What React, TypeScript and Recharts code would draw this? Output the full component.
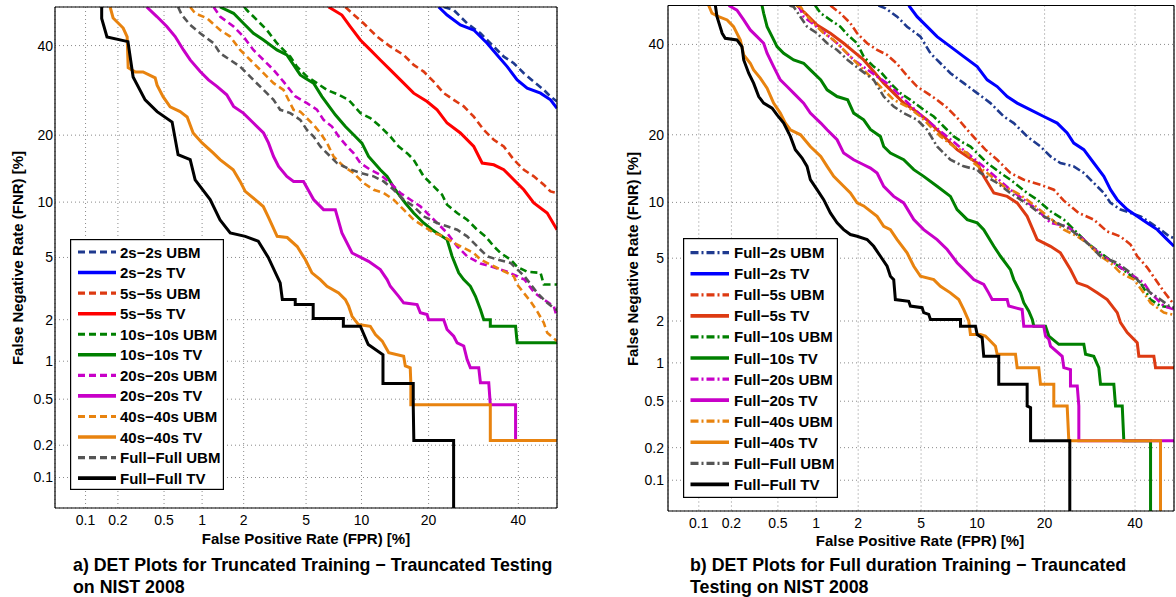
import React from "react";
import { LineChart, Line, XAxis, YAxis, CartesianGrid } from "recharts";

// every point is [false positive rate %, false negative rate %]
type Pt = [number, number];

const tickPercents = [0.1, 0.2, 0.5, 1, 2, 5, 10, 20, 40];
const tickLabels = ["0.1", "0.2", "0.5", "1", "2", "5", "10", "20", "40"];
const axisRange = [0.05, 50];

// ---- a) truncated training - truncated testing
const a2sUbm: Pt[] = [[22.9,50],[24.92,49.2],[27.79,45.74],[30.79,43.15],[33.93,39.73],[36.36,37.22],[38.85,35.6],[41.39,33.19],[43.96,31.2],[46.55,29.31],[48.3,27.82],[50,26.73]];
const a2sTv: Pt[] = [[21.9,50],[23.56,47.9],[26.33,45.3],[29.27,44.0],[32.35,40.6],[34.74,37.65],[37.2,34.77],[39.7,31.6],[42.25,29.7],[45.7,28.57],[48.3,27.1],[50,25.3]];
const a5sUbm: Pt[] = [[8.27,50],[8.96,48.35],[10.24,45.74],[11.91,42.3],[13.73,39.73],[15.74,37.65],[17.37,35.19],[19.11,33.57],[20.95,31.2],[22.9,28.57],[24.92,27.1],[27.05,25.7],[29.27,23.57],[31.56,20.98],[33.93,19.16],[36.36,17.98],[38.85,15.8],[41.39,14.26],[43.96,13.3],[46.55,12.16],[48.3,11.29],[50,11.09]];
const a5sTv: Pt[] = [[6.72,50],[7.93,47.9],[8.77,44.9],[9.87,41.43],[11.05,38.9],[12.34,36.4],[13.73,33.98],[15.23,31.6],[17.37,28.57],[19.72,26.73],[21.6,24.97],[23.56,22.3],[26.33,20.4],[29.27,17.98],[31.18,15.27],[33.93,15.0],[36.36,14.26],[38.85,12.83],[41.39,11.5],[43.96,9.9],[47.44,8.8],[50,7.18]];
const a10sUbm: Pt[] = [[2.02,50],[2.1,49.2],[2.33,47.5],[2.86,44.0],[3.32,40.6],[4.02,37.22],[4.41,34.77],[4.62,33.98],[5.06,32.38],[5.78,30.84],[6.58,29.31],[7.62,28.2],[8.6,27.1],[9.87,24.3],[11.05,23.28],[12.34,21.62],[13.73,19.75],[14.97,17.98],[16.29,16.86],[17.37,15.8],[19.11,13.3],[20.95,11.94],[22.57,10.88],[23.56,9.71],[25.64,8.8],[27.79,8.12],[30.03,7.18],[31.95,6.6],[33.93,5.8],[35.55,5.31],[38.02,4.86],[39.7,4.4],[42.25,4.1],[45.7,4.04],[46.55,3.42],[50,3.42]];
const a10sTv: Pt[] = [[1.36,50],[1.7,48.35],[1.99,45.74],[2.33,43.15],[2.72,41.43],[3.32,38.9],[3.83,37.65],[4.21,35.19],[4.62,32.78],[4.95,32.0],[5.53,30.84],[6.17,27.82],[7.31,23.94],[8.27,21.62],[9.31,19.75],[10.05,18.56],[10.84,16.32],[12.34,14.26],[13.27,13.3],[14.46,11.5],[16.0,9.9],[17.37,8.8],[19.11,7.8],[20.64,7.18],[23.56,6.33],[24.58,5.08],[25.97,4.04],[27.05,3.67],[28.52,3.33],[29.65,2.87],[30.79,2.35],[31.56,2.0],[33.1,2.0],[33.1,1.8],[39.3,1.8],[39.7,1.37],[50,1.37]];
const a20sUbm: Pt[] = [[1.22,50],[1.36,47.5],[1.7,44.9],[1.99,42.3],[2.33,38.9],[2.72,36.4],[3.16,33.98],[3.65,31.2],[4.3,27.9],[5.06,26.39],[5.78,25.0],[6.3,22.93],[7.01,21.62],[7.62,19.75],[8.44,17.98],[9.12,16.86],[9.87,15.27],[11.05,14.26],[12.34,13.53],[13.73,12.39],[15.23,11.09],[16.85,10.28],[18.52,9.52],[20.33,8.46],[21.6,7.8],[23.56,6.89],[25.64,5.8],[27.79,5.08],[30.79,4.6],[33.1,4.43],[37.2,4.1],[41.56,3.67],[44.14,3.02],[46.55,2.73],[49.17,2.47],[50,2.06]];
const a20sTv: Pt[] = [[0.358,50],[0.436,47.5],[0.527,44.9],[0.616,42.3],[0.717,38.9],[0.81,36.4],[0.967,33.6],[1.117,31.6],[1.29,30.1],[1.52,28.2],[1.7,25.7],[1.99,24.3],[2.33,22.3],[2.72,20.4],[2.93,18.6],[3.16,16.3],[3.4,14.75],[3.83,13.3],[4.21,12.6],[4.83,12.6],[5.53,10.3],[6.3,9.16],[7.31,9.16],[7.93,6.89],[8.96,5.31],[10.84,4.74],[12.34,4.23],[13.27,3.67],[13.73,3.33],[14.97,2.87],[15.74,2.6],[17.96,2.53],[18.52,2.23],[19.72,2.17],[20.0,2.0],[22.88,2.0],[23.56,1.71],[24.92,1.53],[25.64,1.37],[27.05,1.3],[27.79,1.03],[28.52,0.89],[30.4,0.89],[30.79,0.68],[32.73,0.68],[33.1,0.45],[39.3,0.45],[39.3,0.22],[50,0.22]];
const a40sUbm: Pt[] = [[0.81,50],[0.885,48.35],[1.09,47.05],[1.36,44.0],[1.61,42.3],[1.89,38.9],[2.22,36.4],[2.72,33.19],[3.16,30.84],[3.65,29.31],[4.21,24.97],[4.62,24.6],[4.95,23.57],[5.53,21.95],[6.04,20.4],[6.58,18.6],[7.15,16.32],[8.1,14.75],[9.12,13.77],[10.24,12.39],[11.47,11.5],[12.79,11.09],[14.22,10.28],[15.74,9.16],[17.37,8.12],[19.11,7.49],[20.95,6.89],[22.9,6.6],[24.92,6.07],[27.05,5.68],[29.27,5.31],[30.79,4.86],[33.93,4.43],[37.2,4.04],[38.85,3.85],[39.7,3.42],[41.39,3.02],[43.1,2.66],[44.84,2.28],[46.55,1.9],[47.44,1.62],[50,1.41]];
const a40sTv: Pt[] = [[0.17,50],[0.181,47.1],[0.223,44.5],[0.242,42.2],[0.247,34.5],[0.284,33.5],[0.333,33.5],[0.422,32.1],[0.438,30.4],[0.491,27.8],[0.561,25.6],[0.675,24.6],[0.767,23.5],[0.854,20.4],[1.0,18.6],[1.21,16.9],[1.36,15.8],[1.69,14.25],[1.89,12.6],[2.05,11.3],[2.32,10.5],[2.71,9.5],[2.92,8.4],[3.33,6.6],[3.85,6.5],[4.43,5.78],[4.62,5.41],[4.95,4.86],[5.41,4.04],[6.04,3.67],[6.58,3.33],[7.62,3.02],[8.27,2.73],[8.6,2.47],[8.96,2.11],[9.66,1.85],[11.05,1.8],[11.7,1.57],[12.6,1.41],[13.27,1.22],[13.5,1.16],[15.74,1.09],[16.0,0.92],[16.8,0.89],[16.9,0.68],[16.9,0.45],[33.1,0.45],[33.1,0.22],[50,0.22]];
const aFullUbm: Pt[] = [[0.65,50],[0.697,47.9],[0.81,45.3],[0.967,43.15],[1.22,40.6],[1.36,38.07],[1.61,36.4],[1.89,34.77],[2.33,31.6],[2.72,29.31],[3.16,27.1],[3.48,24.97],[4.02,24.3],[4.62,22.93],[5.06,20.98],[5.53,19.75],[6.04,17.98],[6.86,16.32],[7.46,15.27],[8.44,14.51],[9.87,13.77],[11.47,13.3],[12.79,12.6],[14.22,11.5],[15.74,10.28],[17.37,9.52],[19.11,8.46],[21.6,7.8],[23.56,7.49],[25.64,7.18],[27.79,6.6],[30.03,5.8],[32.35,5.08],[34.74,4.86],[38.02,4.64],[41.56,3.85],[44.84,3.02],[47.44,2.6],[49.6,2.35],[50,2.35]];
const aFullTv: Pt[] = [[0.142,50],[0.142,47],[0.159,42.2],[0.246,41],[0.273,32.3],[0.347,27.1],[0.438,24.6],[0.582,22.5],[0.65,16.6],[0.81,15.8],[0.885,12.8],[1.15,10.3],[1.36,8.1],[1.61,6.9],[2.05,6.6],[2.51,6.2],[2.92,5.0],[3.48,3.5],[3.59,2.74],[4.31,2.74],[4.31,2.54],[5.5,2.54],[5.5,2.04],[8.07,2.04],[8.07,1.8],[9.87,1.8],[10.8,1.33],[12.7,1.12],[12.7,0.67],[17.3,0.67],[17.3,0.45],[17.4,0.22],[24.9,0.22],[24.9,0.05]];

// ---- b) full duration training - truncated testing
const b2sUbm: Pt[] = [[2.73,50],[3.03,49.27],[3.589,47.1],[4.13,44.52],[4.96,41.97],[5.66,37.8],[6.44,35.36],[7.3,32.98],[8.58,30.66],[10.03,28.42],[11.63,26.26],[13.42,23.5],[14.87,22.2],[16.98,19.7],[19.26,17.94],[21.1,16.29],[23.0,15.26],[25.73,14.75],[27.88,13.78],[30.1,12.4],[32.41,11.11],[33.99,9.94],[36.4,9.2],[38.87,8.85],[41.39,8.5],[43.94,7.85],[46.5,7.23],[48.77,6.65],[50,6.5]];
const b2sTv: Pt[] = [[4.23,50],[4.74,47.1],[5.42,44.52],[6.17,41.97],[7.3,39.45],[8.58,36.97],[10.03,34.54],[11.22,31.42],[12.51,29.89],[13.9,27.67],[15.39,26.26],[17.55,24.86],[19.85,23.5],[22.37,22.2],[24.36,20.32],[25.73,18.53],[27.88,17.4],[30.1,15.26],[32.41,13.3],[33.99,11.53],[35.6,10.31],[38.05,9.2],[40.55,8.5],[43.09,7.85],[45.66,7.23],[48.25,6.38],[50,5.85]];
const b5sUbm: Pt[] = [[1.272,50],[1.502,47.98],[1.767,45.39],[1.966,42.83],[2.298,40.3],[2.676,38.62],[3.105,37.39],[3.589,35.19],[4.13,32.34],[4.74,29.89],[5.42,28.42],[6.17,26.96],[7.01,25.27],[7.92,23.24],[8.94,20.93],[10.03,18.93],[11.0,17.4],[12.51,15.77],[14.37,13.78],[16.43,12.84],[19.26,12.17],[21.72,11.53],[23.68,10.2],[26.74,8.85],[30.1,8.17],[33.2,7.06],[36.4,6.63],[38.87,5.98],[40.55,5.13],[43.09,4.4],[45.22,3.72],[47.37,3.13],[50,2.58]];
const b5sTv: Pt[] = [[0.712,50],[0.851,47.54],[1.014,44.96],[1.272,42.83],[1.585,40.3],[1.863,38.2],[2.18,36.16],[2.542,33.36],[2.953,30.66],[3.417,28.42],[3.94,26.26],[4.53,24.86],[5.42,22.84],[6.17,20.93],[7.01,19.11],[7.92,17.4],[8.94,16.29],[10.03,15.26],[10.8,13.3],[12.07,11.11],[13.9,10.7],[15.39,9.94],[16.98,8.5],[18.68,6.38],[21.1,5.85],[23.0,5.37],[25.04,4.28],[26.46,3.55],[28.62,3.38],[30.88,3.07],[33.2,2.78],[35.6,2.28],[36.4,1.95],[38.05,1.66],[40.55,1.41],[40.96,1.12],[44.79,1.12],[45.22,0.92],[50,0.92]];
const b10sUbm: Pt[] = [[0.98,50],[1.081,47.98],[1.272,46.25],[1.502,44.52],[1.691,42.4],[1.966,40.3],[2.18,36.97],[2.542,34.54],[2.812,33.36],[3.257,30.66],[3.76,28.42],[4.325,26.96],[5.18,24.86],[5.91,23.5],[6.71,21.55],[7.6,19.7],[8.58,18.53],[9.28,17.94],[11.22,15.26],[12.96,13.78],[14.37,12.84],[16.98,11.11],[18.68,10.31],[21.1,9.02],[23.68,8.17],[26.46,6.94],[28.62,6.11],[31.64,5.37],[34.78,4.7],[38.05,4.09],[41.39,3.55],[43.94,2.78],[46.5,2.52],[50,2.45]];
const b10sTv: Pt[] = [[0.369,50],[0.381,47.98],[0.407,44.52],[0.448,41.97],[0.492,39.45],[0.557,37.8],[0.669,36.16],[0.801,35.36],[0.902,33.76],[1.081,31.42],[1.204,29.15],[1.423,27.67],[1.691,26.96],[1.863,24.18],[2.18,22.84],[2.418,21.0],[2.812,19.7],[2.953,17.94],[3.257,16.84],[3.94,15.77],[4.53,14.26],[5.18,13.3],[6.17,11.96],[7.3,10.7],[7.92,9.2],[8.94,8.17],[10.03,7.85],[10.8,7.23],[12.07,5.85],[12.96,5.13],[14.37,4.28],[14.87,3.72],[15.91,3.07],[16.43,2.65],[17.25,2.33],[17.84,2.05],[18.1,1.84],[20.17,1.84],[20.78,1.57],[22.69,1.37],[27.88,1.37],[28.26,1.16],[30.1,1.12],[31.24,0.92],[31.64,0.683],[34.78,0.683],[35.19,0.457],[36.82,0.457],[37.21,0.23],[43.94,0.23],[43.94,0.05]];
const b20sUbm: Pt[] = [[0.729,50],[0.801,47.1],[1.081,43.68],[1.423,40.3],[1.863,36.16],[2.676,32.18],[3.105,30.66],[4.96,23.83],[8.94,16.84],[11.22,14.26],[14.37,11.53],[18.68,9.2],[21.1,7.85],[24.36,7.53],[27.88,6.38],[31.64,5.26],[34.78,4.7],[42.22,3.55],[43.94,3.07],[47.37,2.52],[50,2.39]];
const b20sTv: Pt[] = [[0.189,50],[0.224,48.8],[0.257,46.25],[0.293,43.68],[0.335,41.97],[0.381,40.3],[0.407,37.8],[0.461,34.54],[0.523,31.42],[0.593,29.89],[0.669,28.42],[0.801,26.26],[0.902,24.18],[1.081,22.2],[1.204,20.93],[1.423,19.11],[1.585,16.84],[1.863,15.77],[2.18,15.0],[2.418,14.5],[2.676,13.78],[2.953,11.96],[3.417,10.7],[3.94,9.94],[4.53,8.17],[5.18,7.23],[6.17,6.38],[7.01,5.61],[7.92,4.7],[8.94,4.09],[9.64,3.72],[10.8,3.47],[11.4,3.07],[11.85,2.78],[13.9,2.78],[14.13,2.52],[16.17,2.39],[16.43,1.84],[19.85,1.84],[20.17,1.57],[20.78,1.49],[21.1,1.33],[23.36,1.12],[23.68,0.92],[25.04,0.89],[25.04,0.663],[26.46,0.663],[26.8,0.457],[26.8,0.23],[50,0.23]];
const b40sUbm: Pt[] = [[0.7,50],[0.755,49.7],[0.902,46.25],[1.014,44.52],[1.136,42.83],[1.345,41.13],[1.502,39.45],[1.767,36.97],[2.07,34.54],[2.418,32.18],[2.812,29.89],[3.417,26.96],[4.13,25.54],[4.96,23.5],[5.66,21.55],[6.44,19.7],[7.6,17.94],[8.94,16.84],[9.64,15.26],[11.22,13.78],[13.42,11.96],[15.39,11.11],[16.98,10.31],[19.85,8.85],[23.68,7.23],[26.46,6.65],[28.62,6.11],[31.64,5.13],[33.99,4.7],[36.4,4.09],[39.7,3.72],[42.22,3.07],[43.94,2.65],[47.37,2.28],[50,2.2]];
const b40sTv: Pt[] = [[0.124,50],[0.133,47.98],[0.153,47.1],[0.183,46.25],[0.209,44.52],[0.24,41.13],[0.257,37.39],[0.293,35.36],[0.313,33.76],[0.357,31.81],[0.407,29.53],[0.461,26.26],[0.523,24.18],[0.575,22.2],[0.63,20.93],[0.758,20.0],[0.902,17.94],[1.081,16.29],[1.204,14.75],[1.345,13.3],[1.585,11.96],[1.767,11.11],[1.966,9.94],[2.18,9.6],[2.676,8.5],[2.953,7.53],[3.257,7.23],[3.589,6.38],[4.13,5.37],[4.53,4.48],[4.96,3.9],[5.91,3.72],[6.44,3.38],[7.3,3.07],[8.08,2.78],[8.58,2.39],[9.1,2.0],[9.28,1.61],[10.41,1.61],[11.0,1.57],[11.4,1.49],[12.28,1.33],[12.51,1.16],[15.13,1.16],[15.39,0.92],[18.96,0.92],[19.26,0.683],[21.72,0.683],[21.72,0.457],[24.36,0.457],[24.7,0.23],[46.5,0.23],[46.5,0.05]];
const bFullUbm: Pt[] = [[0.62,50],[0.669,49.7],[0.755,47.1],[0.851,44.52],[1.014,42.83],[1.204,40.3],[1.423,38.62],[1.691,36.16],[2.07,33.76],[2.542,31.42],[2.953,27.67],[3.417,25.54],[3.94,24.18],[4.74,22.84],[5.42,20.93],[6.17,17.94],[7.3,15.77],[8.58,14.75],[10.03,14.26],[10.41,13.78],[12.51,12.4],[14.37,11.11],[15.91,10.31],[17.55,9.56],[19.85,8.5],[22.37,7.85],[25.04,7.23],[28.62,6.11],[31.64,5.13],[35.6,4.7],[38.87,4.09],[41.39,3.55],[43.94,3.07],[46.5,2.78],[48.77,2.52],[50,2.45]];
const bFullTv: Pt[] = [[0.143,50],[0.148,47.1],[0.165,42.83],[0.176,41.56],[0.224,41.13],[0.248,39.45],[0.257,36.16],[0.284,32.98],[0.313,30.66],[0.346,27.67],[0.381,26.26],[0.448,25.2],[0.492,23.83],[0.557,22.2],[0.63,19.7],[0.69,17.4],[0.779,16.04],[0.851,14.75],[0.902,12.84],[1.014,11.53],[1.136,10.31],[1.272,8.85],[1.423,7.85],[1.585,7.23],[1.767,6.8],[1.966,6.65],[2.298,6.38],[2.542,5.85],[2.812,5.13],[3.105,4.48],[3.257,3.9],[3.417,3.72],[3.5,2.78],[4.225,2.71],[4.325,2.52],[5.07,2.46],[5.18,2.28],[5.535,2.22],[5.66,2.05],[8.25,2.05],[8.25,1.84],[9.84,1.84],[10.03,1.61],[10.61,1.53],[10.8,1.12],[12.72,1.12],[12.72,0.683],[16.98,0.683],[16.98,0.457],[17.55,0.443],[17.55,0.23],[24.9,0.23],[24.9,0.05]];

const leftNames = ["2s−2s UBM", "2s−2s TV", "5s−5s UBM", "5s−5s TV", "10s−10s UBM", "10s−10s TV", "20s−20s UBM", "20s−20s TV", "40s−40s UBM", "40s−40s TV", "Full−Full UBM", "Full−Full TV"];
const rightNames = ["Full−2s UBM", "Full−2s TV", "Full−5s UBM", "Full−5s TV", "Full−10s UBM", "Full−10s TV", "Full−20s UBM", "Full−20s TV", "Full−40s UBM", "Full−40s TV", "Full−Full UBM", "Full−Full TV"];

const FONT = '"Liberation Sans", Arial, Helvetica, sans-serif';
const NAVY = "#1f3a8f";
const BLUE = "#0000ff";
const RED = "#ff0000";
const RED_ORANGE = "#dd3a12";
const GREEN = "#008000";
const MAGENTA = "#c800c8";
const ORANGE = "#e8830f";
const GRAY = "#555555";
const BLACK = "#000000";
const DASH = "7 4";
const DASH_DOT = "8 3 2 3";

type Series = { name: string; data: Pt[]; color: string; dash?: string };

const leftSeries: Series[] = [
  { name: leftNames[0], data: a2sUbm, color: NAVY, dash: DASH },
  { name: leftNames[1], data: a2sTv, color: BLUE },
  { name: leftNames[2], data: a5sUbm, color: RED_ORANGE, dash: DASH },
  { name: leftNames[3], data: a5sTv, color: RED },
  { name: leftNames[4], data: a10sUbm, color: GREEN, dash: DASH },
  { name: leftNames[5], data: a10sTv, color: GREEN },
  { name: leftNames[6], data: a20sUbm, color: MAGENTA, dash: DASH },
  { name: leftNames[7], data: a20sTv, color: MAGENTA },
  { name: leftNames[8], data: a40sUbm, color: ORANGE, dash: DASH },
  { name: leftNames[9], data: a40sTv, color: ORANGE },
  { name: leftNames[10], data: aFullUbm, color: GRAY, dash: DASH },
  { name: leftNames[11], data: aFullTv, color: BLACK },
];

const rightSeries: Series[] = [
  { name: rightNames[0], data: b2sUbm, color: NAVY, dash: DASH_DOT },
  { name: rightNames[1], data: b2sTv, color: BLUE },
  { name: rightNames[2], data: b5sUbm, color: RED_ORANGE, dash: DASH_DOT },
  { name: rightNames[3], data: b5sTv, color: RED_ORANGE },
  { name: rightNames[4], data: b10sUbm, color: GREEN, dash: DASH_DOT },
  { name: rightNames[5], data: b10sTv, color: GREEN },
  { name: rightNames[6], data: b20sUbm, color: MAGENTA, dash: DASH_DOT },
  { name: rightNames[7], data: b20sTv, color: MAGENTA },
  { name: rightNames[8], data: b40sUbm, color: ORANGE, dash: DASH_DOT },
  { name: rightNames[9], data: b40sTv, color: ORANGE },
  { name: rightNames[10], data: bFullUbm, color: GRAY, dash: DASH_DOT },
  { name: rightNames[11], data: bFullTv, color: BLACK },
];

// inverse of the standard normal cdf (Acklam), DET plots use this warping
function probit(p: number) {
  const a = [-39.69683028665376, 220.9460984245205, -275.9285104469687, 138.357751867269, -30.66479806614716, 2.506628277459239];
  const b = [-54.47609879822406, 161.5858368580409, -155.6989798598866, 66.80131188771972, -13.28068155288572];
  const c = [-0.007784894002430293, -0.3223964580411365, -2.400758277161838, -2.549732539343734, 4.374664141464968, 2.938163982698783];
  const d = [0.007784695709041462, 0.3224671290700398, 2.445134137142996, 3.754408661907416];
  const lo = 0.02425;
  if (p < lo) {
    const q = Math.sqrt(-2 * Math.log(p));
    return (((((c[0] * q + c[1]) * q + c[2]) * q + c[3]) * q + c[4]) * q + c[5]) / ((((d[0] * q + d[1]) * q + d[2]) * q + d[3]) * q + 1);
  }
  if (p <= 1 - lo) {
    const q = p - 0.5;
    const r = q * q;
    return ((((((a[0] * r + a[1]) * r + a[2]) * r + a[3]) * r + a[4]) * r + a[5]) * q) / (((((b[0] * r + b[1]) * r + b[2]) * r + b[3]) * r + b[4]) * r + 1);
  }
  const q = Math.sqrt(-2 * Math.log(1 - p));
  return -(((((c[0] * q + c[1]) * q + c[2]) * q + c[3]) * q + c[4]) * q + c[5]) / ((((d[0] * q + d[1]) * q + d[2]) * q + d[3]) * q + 1);
}

const toRows = (pts: Pt[]) => pts.map(([fpr, fnr]) => ({ x: probit(fpr / 100), y: probit(fnr / 100) }));

const domain = [probit(axisRange[0] / 100), probit(axisRange[1] / 100)];
const ticks = tickPercents.map((p) => probit(p / 100));
const tickText = (v: number) => {
  const i = ticks.findIndex((t) => Math.abs(t - v) < 1e-9);
  return i < 0 ? "" : tickLabels[i];
};

const frame = { stroke: "#000", strokeWidth: 1.2 };

function DetPanel(props: { series: Series[]; left: number; width: number; height: number; axisWidth: number; top: number; right: number; yGap: number }) {
  const { series, left, width, height, axisWidth, top, right, yGap } = props;
  const common = { type: "number" as const, domain, ticks, allowDataOverflow: true, interval: 0 as const };
  return (
    <div style={{ position: "absolute", left, top: 0 }}>
      <LineChart width={width} height={height} margin={{ top, right, bottom: 0, left: 0 }}>
        <CartesianGrid stroke="#8a8a8a" strokeDasharray="1 3" />
        <XAxis {...common} dataKey="x" height={22} tickLine={false} tickSize={6} tickMargin={1} axisLine={frame} tick={{ fill: "#000", fontSize: 14 }} tickFormatter={tickText} />
        <YAxis {...common} width={axisWidth} tickLine={false} tickSize={yGap} tickMargin={0} axisLine={frame} tick={{ fill: "#000", fontSize: 14 }} tickFormatter={tickText} />
        <XAxis {...common} xAxisId="top" orientation="top" mirror tick={false} tickSize={5} tickLine={frame} axisLine={frame} />
        <XAxis {...common} xAxisId="inner" orientation="bottom" mirror tick={false} tickSize={5} tickLine={frame} axisLine={false} />
        <YAxis {...common} yAxisId="right" orientation="right" mirror tick={false} tickSize={5} tickLine={frame} axisLine={frame} />
        <YAxis {...common} yAxisId="inner" orientation="left" mirror tick={false} tickSize={5} tickLine={frame} axisLine={false} />
        {series.map((s) => (
          <Line
            key={s.name}
            data={toRows(s.data)}
            dataKey="y"
            type="linear"
            stroke={s.color}
            strokeWidth={s.dash ? 2.6 : 3}
            strokeDasharray={s.dash}
            dot={false}
            activeDot={false}
            isAnimationActive={false}
          />
        ))}
      </LineChart>
    </div>
  );
}

function LegendBox(props: { series: Series[]; left: number; top: number; width: number; height: number; rowTop: number; rowGap: number; x0: number; x1: number; textX: number }) {
  const { series, left, top, width, height, rowTop, rowGap, x0, x1, textX } = props;
  return (
    <svg style={{ position: "absolute", left, top }} width={width} height={height}>
      <rect x={0.6} y={0.6} width={width - 1.2} height={height - 1.2} fill="#fff" stroke="#000" strokeWidth={1.2} />
      {series.map((s, i) => {
        const y = rowTop + i * rowGap;
        return (
          <g key={s.name}>
            <line x1={x0} x2={x1} y1={y} y2={y} stroke={s.color} strokeWidth={s.dash ? 3.2 : 3.6} strokeDasharray={s.dash} />
            <text x={textX} y={y} dominantBaseline="central" fontSize={15} fontWeight="bold" fill="#000" fontFamily={FONT}>
              {s.name}
            </text>
          </g>
        );
      })}
    </svg>
  );
}

const titleStyle: React.CSSProperties = { position: "absolute", fontSize: 15, fontWeight: "bold", lineHeight: "16px", whiteSpace: "nowrap", transform: "translate(-50%, -50%)" };
const captionStyle: React.CSSProperties = { position: "absolute", fontSize: 17.8, fontWeight: "bold", lineHeight: "22px", whiteSpace: "nowrap" };

export default function App() {
  return (
    <div style={{ position: "absolute", left: 0, top: 0, width: 1176, height: 597, background: "#fff", fontFamily: FONT, color: "#000", overflow: "hidden" }}>
      <DetPanel series={leftSeries} left={0} width={560} height={530} axisWidth={55} top={7} right={3} yGap={2} />
      <DetPanel series={rightSeries} left={610} width={566} height={533} axisWidth={58} top={5.5} right={2} yGap={4} />

      <LegendBox series={leftSeries} left={70} top={239} width={154} height={251} rowTop={13} rowGap={20.56} x0={8} x1={46} textX={50} />
      <LegendBox series={rightSeries} left={683} top={238} width={155} height={260} rowTop={14.7} rowGap={21.06} x0={7.5} x1={46} textX={51} />

      <div style={{ ...titleStyle, left: 306, top: 539 }}>False Positive Rate (FPR) [%]</div>
      <div style={{ ...titleStyle, left: 920, top: 541 }}>False Positive Rate (FPR) [%]</div>
      <div style={{ ...titleStyle, left: 17.5, top: 257.5, transform: "translate(-50%, -50%) rotate(-90deg)" }}>False Negative Rate (FNR) [%]</div>
      <div style={{ ...titleStyle, left: 632.5, top: 258.5, transform: "translate(-50%, -50%) rotate(-90deg)" }}>False Negative Rate (FNR) [%]</div>

      <div style={{ ...captionStyle, left: 73, top: 554 }}>
        a) DET Plots for Truncated Training − Trauncated Testing
        <br />
        on NIST 2008
      </div>
      <div style={{ ...captionStyle, left: 690, top: 554 }}>
        b) DET Plots for Full duration Training − Trauncated
        <br />
        Testing on NIST 2008
      </div>
    </div>
  );
}
